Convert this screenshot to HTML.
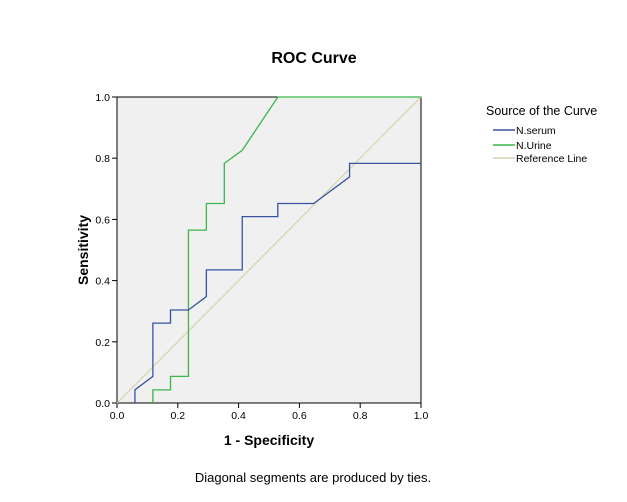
<!DOCTYPE html>
<html><head><meta charset="utf-8">
<style>
body{margin:0;background:#fff;font-family:"Liberation Sans",sans-serif;}
svg{display:block}
</style></head>
<body>
<svg id="c" width="627" height="502" xmlns="http://www.w3.org/2000/svg">
<text x="314" y="63" text-anchor="middle" font-size="16" font-weight="bold">ROC Curve</text>
<rect x="117" y="97" width="304" height="306" fill="#f0f0f0" stroke="#000" stroke-width="1"/>
<g id="ticks"></g>
<g id="series"></g>
<text x="269" y="445" text-anchor="middle" font-size="14" font-weight="bold">1 - Specificity</text>
<text transform="translate(88,250) rotate(-90)" text-anchor="middle" font-size="14" font-weight="bold">Sensitivity</text>
<text x="313" y="482" text-anchor="middle" font-size="13">Diagonal segments are produced by ties.</text>
<g>
<text x="486" y="115" font-size="12.5">Source of the Curve</text>
<line x1="493" y1="130" x2="515" y2="130" stroke="#3953a4" stroke-width="1.5"/>
<text x="516" y="134" font-size="10.5">N.serum</text>
<line x1="493" y1="145" x2="515" y2="145" stroke="#3cb64a" stroke-width="1.5"/>
<text x="516" y="149" font-size="10.5">N.Urine</text>
<line x1="493" y1="158" x2="515" y2="158" stroke="#d6d6b0" stroke-width="1.5"/>
<text x="516" y="162" font-size="10.5">Reference Line</text>
</g>
</svg>
<script>
const xTicks=["0.0","0.2","0.4","0.6","0.8","1.0"];
const yTicks=["0.0","0.2","0.4","0.6","0.8","1.0"];
const serumX=[0.059,0.059,0.118,0.118,0.176,0.176,0.235,0.294,0.294,0.412,0.412,0.529,0.529,0.647,0.765,0.765,1];
const serumY=[0,0.043,0.087,0.261,0.261,0.304,0.304,0.348,0.435,0.435,0.609,0.609,0.652,0.652,0.739,0.783,0.783];
const urineX=[0.118,0.118,0.176,0.176,0.235,0.235,0.294,0.294,0.353,0.353,0.412,0.529,1];
const urineY=[0,0.043,0.043,0.087,0.087,0.565,0.565,0.652,0.652,0.783,0.826,1,1];
const refX=[0,1];
const refY=[0,1];
const NS="http://www.w3.org/2000/svg";
const sx=v=>117+v*304, sy=v=>403-v*306;
const tg=document.getElementById('ticks');
xTicks.forEach(t=>{const v=parseFloat(t);
 const l=document.createElementNS(NS,'line');l.setAttribute('x1',sx(v));l.setAttribute('x2',sx(v));l.setAttribute('y1',403);l.setAttribute('y2',408);l.setAttribute('stroke','#000');
 
 tg.appendChild(l);
 const tx=document.createElementNS(NS,'text');tx.setAttribute('x',sx(v));tx.setAttribute('y',419);tx.setAttribute('text-anchor','middle');tx.setAttribute('font-size','10.5');tx.textContent=t;
 
 tg.appendChild(tx);});
yTicks.forEach(t=>{const v=parseFloat(t);
 const l=document.createElementNS(NS,'line');l.setAttribute('x1',112);l.setAttribute('x2',117);l.setAttribute('y1',sy(v));l.setAttribute('y2',sy(v));l.setAttribute('stroke','#000');
 
 tg.appendChild(l);
 const tx=document.createElementNS(NS,'text');tx.setAttribute('x',110);tx.setAttribute('y',sy(v)+4);tx.setAttribute('text-anchor','end');tx.setAttribute('font-size','10.5');tx.textContent=t;
 
 tg.appendChild(tx);});
const sg=document.getElementById('series');
function line(xs,ys,color,name){const p=document.createElementNS(NS,'polyline');
 p.setAttribute('points',xs.map((x,i)=>sx(x)+','+sy(ys[i])).join(' '));
 p.setAttribute('fill','none');p.setAttribute('stroke',color);p.setAttribute('stroke-width','1.3');
 
 sg.appendChild(p);}
line(refX,refY,'#d6d6b0','reference-line');
line(urineX,urineY,'#3cb64a','urine-curve');
line(serumX,serumY,'#3953a4','serum-curve');
</script>
</body></html>
